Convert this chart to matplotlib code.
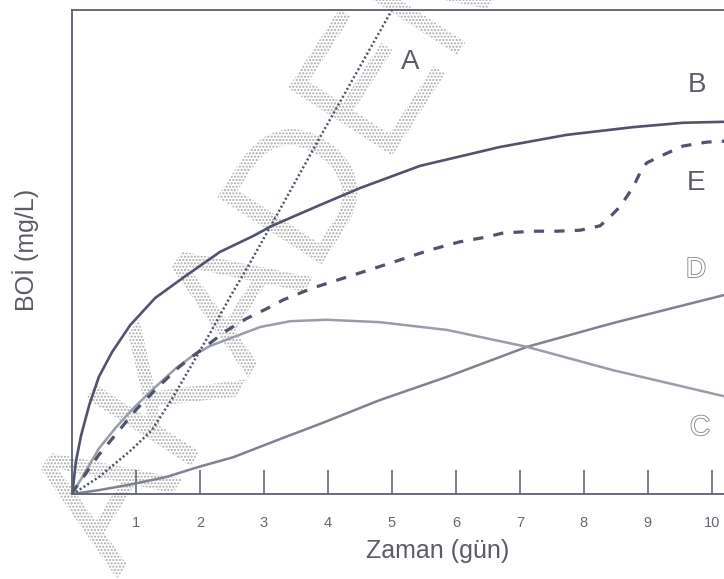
import matplotlib
matplotlib.use('Agg')
import matplotlib.pyplot as plt
import matplotlib.patheffects as pe
from matplotlib.textpath import TextPath
from matplotlib.patches import PathPatch
from matplotlib.font_manager import FontProperties
from matplotlib.transforms import Affine2D

plt.rcParams['font.family'] = ['Liberation Sans', 'DejaVu Sans']
plt.rcParams['hatch.linewidth'] = 1.0

# values: time in days, BOD on a 0-100 scale
a_days = [0, 0.06, 0.42, 0.91, 1.25, 1.56, 1.89, 2.16, 2.47, 2.78, 3.09, 3.88, 5.0]
a_bod = [0, 0.4, 3.5, 8.9, 13.2, 19.6, 27.1, 33.3, 40.7, 47.7, 55.0, 73.8, 100]

b_days = [0, 0.016, 0.06, 0.14, 0.27, 0.42, 0.625, 0.91, 1.30, 1.77, 2.31, 2.83,
          3.125, 3.875, 4.5, 5.44, 6.69, 7.73, 8.77, 9.55, 10.19]
b_bod = [0, 1.4, 6.6, 12.0, 18.4, 24.2, 29.3, 34.9, 40.5, 45.0, 50.0, 53.3,
         55.4, 59.7, 63.2, 67.8, 71.7, 74.2, 75.8, 76.7, 76.9]

c_days = [0, 0.03, 0.22, 0.42, 0.69, 0.95, 1.27, 1.625, 1.89, 2.16, 2.52, 2.94,
          3.41, 3.98, 4.81, 5.86, 7.11, 8.45, 10.19]
c_bod = [0, 0.6, 4.8, 9.4, 13.8, 17.6, 21.7, 26.0, 28.6, 30.6, 32.4, 34.5,
         35.7, 36.0, 35.5, 33.9, 30.4, 25.6, 20.2]

d_days = [0, 0.42, 0.89, 1.47, 1.98, 2.52, 3.34, 3.88, 4.81, 5.86, 7.11, 8.45, 10.19]
d_bod = [0, 0.8, 1.9, 3.5, 5.6, 7.6, 11.8, 14.5, 19.4, 24.2, 30.4, 35.3, 41.1]

e_days = [0, 0.03, 0.22, 0.42, 0.69, 1.0, 1.36, 1.67, 1.89, 2.16, 2.41, 2.72,
          3.03, 3.30, 3.77, 4.34, 5.02, 5.59, 6.06, 6.48, 6.73, 7.20, 7.58, 7.94,
          8.25, 8.36, 8.56, 8.77, 8.875, 8.98, 9.23, 9.55, 9.92, 10.19]
e_bod = [0, 0.8, 4.3, 8.1, 12.4, 17.4, 22.3, 26.2, 28.5, 31.2, 33.7, 36.2,
         38.2, 40.1, 42.6, 45.0, 47.9, 50.4, 52.1, 53.1, 53.9, 54.3, 54.3, 54.5,
         55.4, 56.6, 59.3, 63.4, 66.3, 68.4, 70.0, 71.9, 72.7, 72.9]

x_ticks = [1, 2, 3, 4, 5, 6, 7, 8, 9, 10]

dark = '#50546a'
text_col = '#5c5c66'

fig = plt.figure(figsize=(7.24, 5.79), dpi=100)
ax = fig.add_axes([72 / 724, 85 / 579, 652 / 724, 484 / 579])
ax.patch.set_alpha(0)

# stippled watermark behind the chart
wm = TextPath((0, 0), 'AKADEMİ', size=180,
              prop=FontProperties(family='Liberation Sans'))
wm_tr = Affine2D().rotate_deg(57).translate(117, 0)
wm_patch = PathPatch(wm, transform=wm_tr, facecolor='none',
                     edgecolor='#a9a9a9', hatch='.....', lw=0, zorder=-1)
fig.add_artist(wm_patch)

ax.plot(d_days, d_bod, color='#80838f', lw=1.8, solid_joinstyle='round')
ax.plot(c_days, c_bod, color='#9a9ca8', lw=1.8, solid_joinstyle='round')
ax.plot(b_days, b_bod, color=dark, lw=1.9, solid_joinstyle='round')
ax.plot(e_days, e_bod, color=dark, lw=2.3, linestyle=(0, (3.2, 3.2)))
ax.plot(a_days, a_bod, color=dark, lw=1.8, linestyle=(0, (0.8, 1.0)))

ax.set_xlim(0, 10.19)
ax.set_ylim(0, 100)

ax.spines['right'].set_visible(False)
for side in ['left', 'bottom', 'top']:
    ax.spines[side].set_color('#5a5e6e')
    ax.spines[side].set_linewidth(1.3)

ax.set_xticks(x_ticks)
ax.set_xticklabels([str(t) for t in x_ticks])
ax.set_yticks([])
ax.tick_params(axis='x', direction='in', length=17, width=1.1, color='#5a5e6e',
               pad=16, labelsize=10.5, labelcolor='#666670')

fig.text(438 / 724, 1 - 551 / 579, 'Zaman (gün)', fontsize=18, color=text_col,
         ha='center', va='center')
fig.text(26 / 724, 1 - 250 / 579, 'BOİ (mg/L)', fontsize=18, color=text_col,
         ha='center', va='center', rotation=90)

# curve letters, D and C are hollow in the scan
for lbl, px, py, hollow in [('A', 410, 62, False), ('B', 697, 85, False),
                            ('E', 696, 183, False), ('D', 696, 270, True),
                            ('C', 700, 428, True)]:
    if hollow:
        fig.text(px / 724, 1 - py / 579, lbl, fontsize=20, color='white',
                 ha='center', va='center',
                 path_effects=[pe.withStroke(linewidth=1.3, foreground='#8a8a94')])
    else:
        fig.text(px / 724, 1 - py / 579, lbl, fontsize=20, color=text_col,
                 ha='center', va='center')

fig.savefig('out.png', dpi=100)
